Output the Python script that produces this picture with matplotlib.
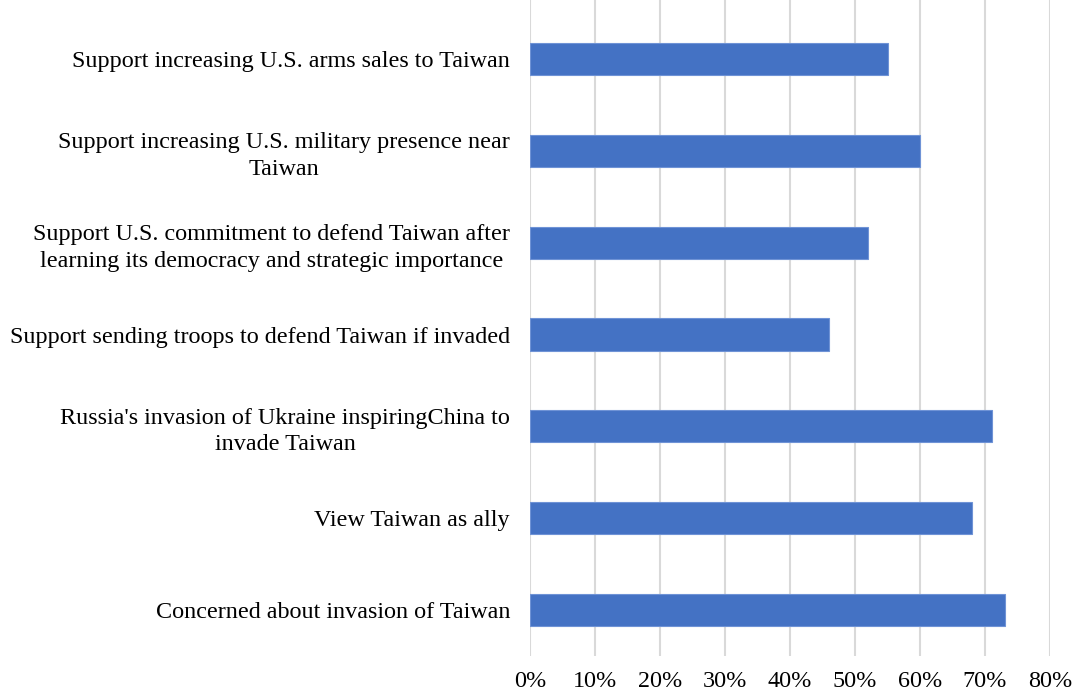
import matplotlib.pyplot as plt
import numpy as np

plt.rcParams['font.family'] = ['Liberation Serif', 'DejaVu Serif']

# DATA (top to bottom)
labels = [
    "Support increasing U.S. arms sales to Taiwan",
    "Support increasing U.S. military presence near\nTaiwan",
    "Support U.S. commitment to defend Taiwan after\nlearning its democracy and strategic importance",
    "Support sending troops to defend Taiwan if invaded",
    "Russia's invasion of Ukraine inspiringChina to\ninvade Taiwan",
    "View Taiwan as ally",
    "Concerned about invasion of Taiwan",
]
values = [55, 60, 52, 46, 71, 68, 73]
xticks = [0, 10, 20, 30, 40, 50, 60, 70, 80]

fig = plt.figure(figsize=(10.72, 6.93), dpi=100)
ax = fig.add_axes([530/1072, 1 - 656/693, 520/1072, 656/693])

y = np.arange(len(values))[::-1]
ax.barh(y, values, height=0.35, color='#4472C4', edgecolor='#6f93d6', linewidth=0.8, zorder=3)

ax.set_xlim(0, 80)
ax.set_ylim(-0.5, len(values) - 0.5 + 13/91.8)
ax.set_xticks(xticks)
ax.set_xticklabels([f"{t}%" for t in xticks], fontsize=17.4)
ax.set_yticks(y)
ax.set_yticklabels(labels, fontsize=17.4, multialignment='center', linespacing=1.35)
ax.grid(axis='x', color='#d9d9d9', linewidth=1.5, zorder=0)
ax.tick_params(axis='x', length=0, pad=11)
ax.tick_params(axis='y', length=0, pad=14.4)
for s in ax.spines.values():
    s.set_visible(False)

fig.savefig('out.png', dpi=100)
